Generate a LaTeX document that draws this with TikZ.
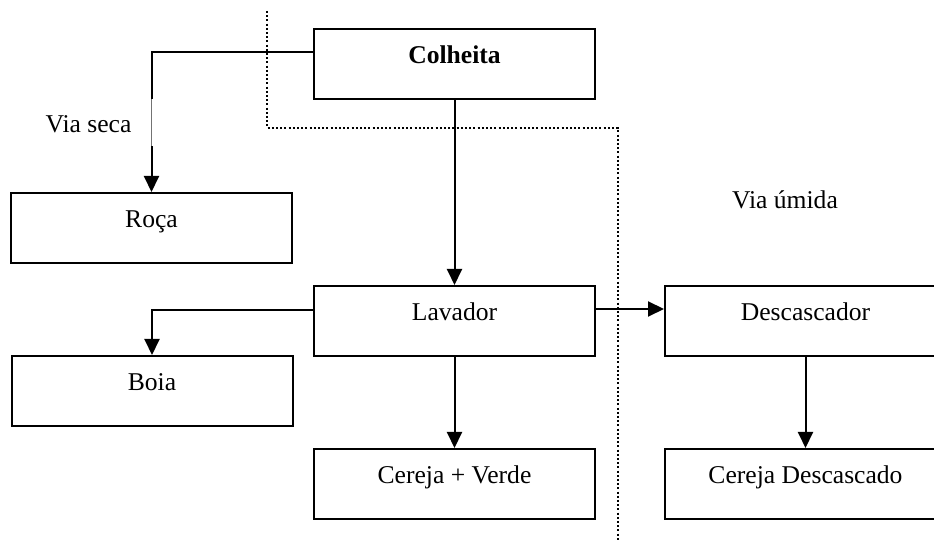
\documentclass[tikz,border=0pt]{standalone}
\usepackage{fontspec}
\setmainfont{Liberation Serif}
\usetikzlibrary{arrows.meta}
\begin{document}
\begin{tikzpicture}[x=1pt,y=1pt,
  box/.style={draw,line width=2pt,rectangle,inner sep=0pt,minimum width=281pt,
    text height=35pt,text depth=35pt,font=\fontsize{25.6}{30}\selectfont},
  lbl/.style={inner sep=0pt,anchor=base,font=\fontsize{25.6}{30}\selectfont},
  arr/.style={line width=2pt,-{Triangle[length=16pt,width=15pt]}},
  sep/.style={line width=2pt,dash pattern=on 2pt off 2.2pt}]
\clip (0,0) rectangle (934,543);
\node[box] (colheita) at (454.5,479) {\textbf{Colheita}};
\node[box] (roca) at (151.5,315) {Roça};
\node[box] (lavador) at (454.5,222) {Lavador};
\node[box] (boia) at (152,152) {Boia};
\node[box] (cereja) at (454.5,59) {Cereja + Verde};
\node[box] (desc) at (805.5,222) {Descascador};
\node[box] (cdesc) at (805.5,59) {Cereja Descascado};
\node[lbl] (viaseca) at (88.5,410) {Via seca};
\node[lbl] (viaumida) at (785,334) {Via úmida};
% separator
\draw[sep] (267,532) -- (267,415) -- (618,415) -- (618,3);
% connectors
\draw[arr] ([yshift=12pt]colheita.west) -| (roca.north);
\draw[white,line width=2.8pt] (roca.north |- 0,444) -- (roca.north |- 0,397);
\draw[black!55,line width=1.1pt] (roca.north |- 0,444) -- (roca.north |- 0,397);
\draw[arr] (colheita.south) -- (lavador.north);
\draw[arr] ([yshift=11pt]lavador.west) -| (boia.north);
\draw[arr] (lavador.south) -- (cereja.north);
\draw[arr] ([yshift=12pt]lavador.east) -- ([yshift=12pt]desc.west);
\draw[arr] (desc.south) -- (cdesc.north);
\end{tikzpicture}
\end{document}
